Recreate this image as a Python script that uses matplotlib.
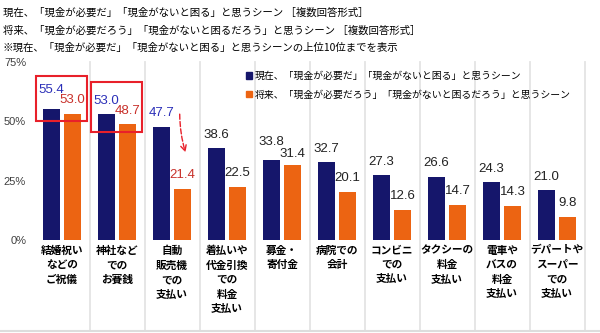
import numpy as np
import matplotlib
matplotlib.use("Agg")
import matplotlib.pyplot as plt
from matplotlib.patches import Rectangle, Patch
from matplotlib.transforms import blended_transform_factory

plt.rcParams['font.family'] = ['Noto Sans CJK JP', 'DejaVu Sans']

categories = ["結婚祝い\nなどの\nご祝儀", "神社など\nでの\nお賽銭", "自動\n販売機\nでの\n支払い",
              "着払いや\n代金引換\nでの\n料金\n支払い", "募金・\n寄付金", "病院での\n会計",
              "コンビニ\nでの\n支払い", "タクシーの\n料金\n支払い", "電車や\nバスの\n料金\n支払い",
              "デパートや\nスーパー\nでの\n支払い"]
now_vals = [55.4, 53.0, 47.7, 38.6, 33.8, 32.7, 27.3, 26.6, 24.3, 21.0]
future_vals = [53.0, 48.7, 21.4, 22.5, 31.4, 20.1, 12.6, 14.7, 14.3, 9.8]
now_label = "現在、「現金が必要だ」「現金がないと困る」と思うシーン"
future_label = "将来、「現金が必要だろう」「現金がないと困るだろう」と思うシーン"
title_lines = ["現在、「現金が必要だ」「現金がないと困る」と思うシーン ［複数回答形式］",
               "将来、「現金が必要だろう」「現金がないと困るだろう」と思うシーン ［複数回答形式］",
               "※現在、「現金が必要だ」「現金がないと困る」と思うシーンの上位10位までを表示"]
yticks = [0, 25, 50, 75]

navy = "#15166b"
orange = "#ec6412"
red = "#e8202a"

fig = plt.figure(figsize=(6, 3.33), dpi=100)
ax = fig.add_axes([34.5 / 600, 1 - 240 / 333, 550 / 600, 178 / 333])

x = np.arange(len(categories))
w = 0.31
off = 0.19
ax.bar(x - off, now_vals, w, color=navy, zorder=3)
ax.bar(x + off, future_vals, w, color=orange, zorder=3)

ax.set_xlim(-0.5, len(categories) - 0.5)
ax.set_ylim(0, 75)
ax.set_yticks(yticks)
ax.set_yticklabels([f"{t}%" for t in yticks], fontsize=8, color="#404040",
                   family=['Liberation Sans', 'DejaVu Sans'])
ax.set_xticks(x)
ax.set_xticklabels(categories, fontsize=7.7, fontweight='bold', linespacing=1.55)
ax.tick_params(length=0)
ax.tick_params(axis='y', pad=6)
ax.tick_params(axis='x', pad=4)
for s in ax.spines.values():
    s.set_visible(False)

# faint separators between categories
trans = blended_transform_factory(ax.transData, ax.transAxes)
for b in np.arange(0.5, len(categories), 1.0):
    ax.plot([b, b], [-0.505, 1.0], transform=trans, color="#e4e4e4", lw=1.3,
            clip_on=False, zorder=1)

# value labels (staggered when the two bars are almost the same height)
for i in range(len(categories)):
    c1 = "#2b2fb8" if i < 3 else "#222222"
    c2 = "#c8302a" if i < 3 else "#222222"
    close = abs(now_vals[i] - future_vals[i]) < 3
    up = 13 if close else 9.7
    down = 8 if (close and i > 0) else 10
    ax.annotate(f"{now_vals[i]:.1f}", (x[i] - off, now_vals[i]), xytext=(0, up),
                textcoords='offset points', ha='center', va='center', fontsize=9.5,
                color=c1, family=['Liberation Sans'], zorder=4)
    ax.annotate(f"{future_vals[i]:.1f}", (x[i] + off, future_vals[i]), xytext=(0, down),
                textcoords='offset points', ha='center', va='center', fontsize=9.5,
                color=c2, family=['Liberation Sans'], zorder=4)

# red highlight boxes on the first two groups
for i in range(2):
    lo = min(now_vals[i], future_vals[i]) - 3
    hi = max(now_vals[i], future_vals[i]) + 13.5
    ax.add_patch(Rectangle((x[i] - 0.47, lo), 0.92, hi - lo, fill=False,
                           edgecolor=red, lw=1.5, zorder=5, clip_on=False))

# dashed arrow for vending machine drop
ax.annotate("", xy=(x[2] + 0.26, future_vals[2] + 14.4), xytext=(x[2] + 0.14, now_vals[2] + 6.5),
            arrowprops=dict(arrowstyle='->', linestyle='--', color=red, lw=1.0,
                            connectionstyle='arc3,rad=0.08'), zorder=5)

handles = [Patch(color=navy), Patch(color=orange)]
fig.legend(handles, [now_label, future_label], loc='upper left',
           bbox_to_anchor=(246 / 600, 1 - 71 / 333), frameon=False, fontsize=7.1,
           handlelength=0.6, handleheight=0.6, handletextpad=0.3, labelspacing=0.85,
           borderaxespad=0, borderpad=0)

for k, line in enumerate(title_lines):
    fig.text(3 / 600, 1 - (13 + 17.5 * k) / 333, line, fontsize=7.5, va='center', ha='left')

# bottom border line
fig.add_artist(plt.Line2D([0, 1], [1 - 331 / 333] * 2, color="#dddddd", lw=1.5))

fig.savefig("out.png", dpi=100, facecolor="white")
